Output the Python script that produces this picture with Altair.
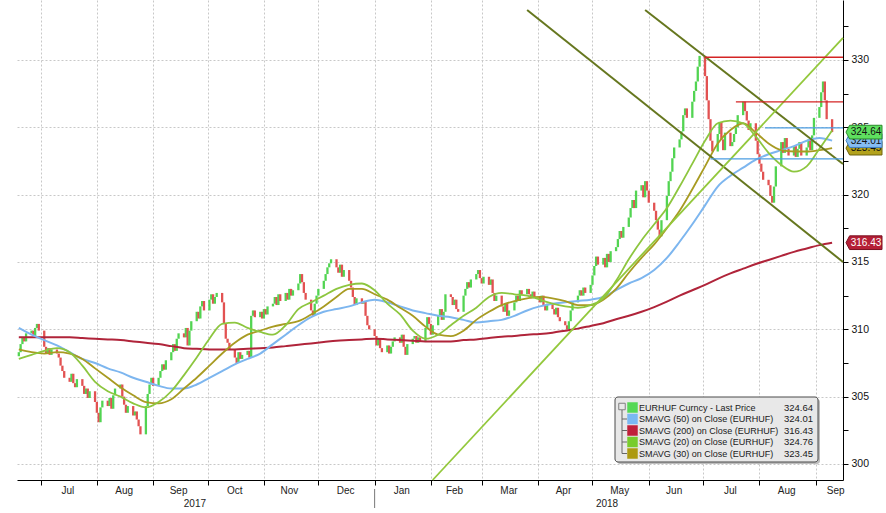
import altair as alt
import numpy as np
import pandas as pd

# ------------------------------------------------------------------ data
first_open = 308.0
closes = [
    308.3, 308.9, 309.4, 309.1, 309.7,  309.9, 309.5, 310.1, 310.4, 309.9,
    308.7, 308.2, 308.6, 308.1, 308.5,  308.2, 307.9, 307.3, 306.9, 306.4,
    306.1, 306.7, 306.0, 305.7, 306.3,  305.8, 305.2, 305.6, 304.9, 305.4,
    304.6, 303.8, 303.1, 304.2, 304.7,  304.3, 304.9, 304.1, 305.1, 305.6,
    305.9, 305.0, 304.4, 303.8, 304.3,  303.6, 303.9, 303.3, 302.8, 302.2,
    304.3, 305.2, 305.9, 306.4, 305.8,  306.4, 306.9, 307.4, 307.0, 307.7,
    308.3, 308.9, 308.4, 309.3, 309.7,  309.4, 310.1, 308.8, 309.9, 310.6,
    311.3, 310.8, 311.7, 312.1, 311.4,  312.2, 312.6, 311.9, 312.4, 312.7,
    312.0, 310.4, 309.3, 309.0, 308.5,  307.9, 307.5, 308.3, 307.8, 308.1,
    308.4, 307.9, 311.0, 311.4, 310.9,  311.3, 310.8, 311.5, 311.1, 311.7,
    311.9, 312.4, 311.8, 312.6, 312.1,  312.7, 312.2, 313.0, 312.5, 312.9,
    313.4, 314.1, 313.5, 312.7, 312.2,  311.4, 311.0, 311.9, 312.5, 313.0,
    313.6, 314.1, 314.6, 314.9, 315.2,  314.6, 314.2, 314.8, 313.9, 314.4,
    313.6, 313.1, 312.4, 311.8, 312.3,  311.9, 312.1, 311.0, 310.3, 310.0,
    309.5, 308.8, 309.3, 308.6, 308.3,  308.8, 308.2, 308.7, 309.1, 309.4,
    309.0, 309.6, 308.7, 308.1, 308.9,  309.3, 309.5, 309.0, 309.4, 309.1,
    310.1, 310.9, 310.4, 309.6, 310.3,  311.0, 311.5, 310.7, 311.3, 312.6,
    312.4, 311.8, 312.2, 311.5, 311.3,  312.5, 313.0, 313.5, 313.1, 313.7,
    314.1, 314.4, 313.8, 313.4, 313.9,  313.3, 313.7, 312.7, 312.1, 312.5,
    311.7, 311.3, 311.9, 311.0, 311.4,  312.0, 312.5, 312.1, 312.9, 312.6,
    313.0, 312.6, 312.3, 312.8, 312.4,  312.0, 312.5, 311.8, 311.4, 311.9,
    311.5, 311.1, 311.6, 310.9, 310.6,  310.3, 310.0, 310.6, 311.4, 312.0,
    312.5, 312.9, 312.5, 313.1, 312.7,  313.3, 314.0, 314.7, 315.4, 314.8,
    315.3, 314.6, 315.6, 315.0, 315.8,  316.1, 316.7, 317.3, 316.8, 317.6,
    318.3, 319.0, 319.6, 319.0, 320.3,  320.7, 319.8, 321.0, 320.3, 319.4,
    318.8, 318.1, 317.4, 316.9, 318.1,  319.9, 321.0, 321.7, 322.7, 323.5,
    324.1, 324.7, 325.9, 326.4, 325.7,  326.9, 327.7, 328.4, 329.5, 330.3,
    328.8, 327.0, 325.6, 324.0, 323.2,  324.5, 325.4, 324.1, 323.3, 324.6,
    323.6, 323.9, 324.5, 325.0, 325.9,  326.9, 326.2, 325.5, 324.8, 325.3,
    324.0, 323.0, 322.3, 321.7, 321.1,  320.7, 319.9, 319.4, 320.6, 322.1,
    323.9, 323.1, 324.2, 323.4, 322.9,  323.6, 322.8, 323.4, 323.9, 322.9,
    323.5, 324.1, 323.3, 324.4, 325.7,  326.5, 327.6, 328.4, 327.0, 325.6,
    324.64,
]

# weekly readings of the moving averages (Mondays from 2017-06-19)
sma20 = [
    307.8, 308.1, 308.4, 308.6, 308.3, 307.3, 306.1, 305.4, 305.0, 304.5,
    304.2, 304.6, 305.4, 306.6, 307.9, 309.3, 310.4, 310.5, 310.1, 309.8,
    309.6, 310.3, 311.5, 312.0, 312.5, 313.0, 313.3, 313.4, 312.9, 311.9,
    311.1, 309.9, 309.3, 309.6, 310.3, 311.0, 311.6, 312.4, 312.7, 312.6,
    312.5, 312.2, 311.9, 311.7, 311.6, 311.8, 312.3, 313.6, 315.2, 316.6,
    317.8, 319.0, 320.6, 322.3, 324.0, 325.3, 325.5, 325.3, 324.3, 323.1,
    322.2, 321.7, 322.1, 323.4, 324.76,
]
sma30 = [
    308.5, 308.3, 308.2, 308.3, 308.2, 307.8, 307.1, 306.4, 305.7, 305.1,
    304.6, 304.5, 304.8, 305.6, 306.4, 307.3, 308.2, 309.0, 309.6, 309.9,
    310.2, 310.4, 310.6, 311.1, 311.7, 312.4, 313.0, 313.0, 312.6, 312.2,
    311.6, 311.0, 310.2, 309.6, 309.5, 309.9, 310.7, 311.3, 311.8, 312.1,
    312.3, 312.4, 312.3, 312.1, 311.8, 311.8, 312.2, 313.0, 314.2, 315.3,
    316.3, 317.5, 318.8, 320.4, 322.1, 323.8, 324.8, 325.3, 324.6, 323.8,
    323.3, 323.2, 323.2, 323.3, 323.45,
]
sma50 = [
    310.1, 309.6, 309.2, 308.8, 308.3, 307.8, 307.5, 307.1, 306.8, 306.4,
    306.1, 305.8, 305.6, 305.6, 305.9, 306.4, 306.9, 307.4, 307.8, 308.2,
    308.9, 309.6, 310.3, 310.9, 311.3, 311.5, 311.7, 312.0, 312.2, 312.0,
    311.7, 311.4, 311.2, 311.0, 310.9, 310.7, 310.5, 310.6, 310.7, 311.0,
    311.4, 311.7, 311.9, 312.0, 312.1, 312.2, 312.4, 312.9, 313.4, 313.8,
    314.4, 315.3, 316.5, 317.8, 319.2, 320.6, 321.4, 322.0, 322.6, 323.0,
    323.3, 323.6, 324.0, 324.2, 324.01,
]
sma200 = [
    309.4, 309.4, 309.4, 309.4, 309.4, 309.35, 309.3, 309.25, 309.2, 309.1,
    309.0, 308.9, 308.75, 308.6, 308.55, 308.5, 308.5, 308.5, 308.55, 308.6,
    308.65, 308.75, 308.85, 308.95, 309.05, 309.15, 309.2, 309.25, 309.3, 309.25,
    309.2, 309.15, 309.1, 309.1, 309.1, 309.2, 309.25, 309.35, 309.45, 309.5,
    309.6, 309.65, 309.75, 309.9, 310.05, 310.25, 310.45, 310.75, 311.0, 311.3,
    311.65, 312.05, 312.5, 312.9, 313.3, 313.75, 314.15, 314.5, 314.85, 315.15,
    315.45, 315.75, 316.0, 316.25, 316.43,
]

# hand-drawn trend lines and levels (date, price)
desc_upper_dates = ["2018-05-30", "2018-09-16"]
desc_upper_prices = [333.71, 322.27]
desc_lower_dates = ["2018-03-26", "2018-09-16"]
desc_lower_prices = [333.71, 315.0]
asc_dates = ["2018-02-02", "2018-09-16"]
asc_prices = [298.81, 331.63]
level_start = ["2018-07-02", "2018-07-19", "2018-08-04", "2018-07-05"]
level_price = [330.2, 326.88, 324.95, 322.65]
level_kind = ["red", "red", "blue", "blue"]

month_names = ["Jul", "Aug", "Sep", "Oct", "Nov", "Dec", "Jan", "Feb", "Mar",
               "Apr", "May", "Jun", "Jul", "Aug", "Sep"]
month_starts = [(2017, m) for m in range(7, 13)] + [(2018, m) for m in range(1, 10)]
month_label_dates = ["2017-07-16", "2017-08-16", "2017-09-15", "2017-10-16",
                     "2017-11-15", "2017-12-16", "2018-01-16", "2018-02-14",
                     "2018-03-16", "2018-04-15", "2018-05-16", "2018-06-15",
                     "2018-07-16", "2018-08-16", "2018-09-12"]
year_names = ["2017", "2018"]
year_label_dates = ["2017-09-24", "2018-05-09"]
y_ticks = [300, 302.5, 305, 307.5, 310, 312.5, 315, 317.5, 320, 322.5,
           325, 327.5, 330, 332.5]

legend_names = ["EURHUF Curncy - Last Price", "SMAVG (50)  on Close (EURHUF)",
                "SMAVG (200)  on Close (EURHUF)", "SMAVG (20)  on Close (EURHUF)",
                "SMAVG (30)  on Close (EURHUF)"]
legend_values = ["324.64", "324.01", "316.43", "324.76", "323.45"]

# ------------------------------------------------------------------ styling
F = "Liberation Sans"
OX = 17  # plot area starts 17px from the left edge of the page
C_UP, C_DN = "#52d452", "#e25252"
C20, C30, C50, C200 = "#8dc63f", "#a89b22", "#7db6ef", "#b0243a"
C_DESC, C_ASC = "#66771f", "#93c83c"

xs = alt.Scale(type="utc", domain=[alt.DateTime(year=2017, month=6, date=18, utc=True),
                                   alt.DateTime(year=2018, month=9, date=16, utc=True)])
ys = alt.Scale(domain=[298.81, 334.45], nice=False, zero=False)

xaxis = alt.Axis(values=[alt.DateTime(year=y, month=m, date=1, utc=True) for y, m in month_starts],
                 labels=False, title=None, tickColor="#000", tickSize=5, domainColor="#000",
                 grid=True, gridColor="#c8c8c8", gridDash=[2, 2])
yaxis = alt.Axis(orient="right", values=y_ticks, title=None,
                 labelExpr="datum.value % 5 === 0 ? format(datum.value, 'd') : ''",
                 tickColor="#000", tickSize=5, domainColor="#000", labelFont=F,
                 labelFontSize=10.5, labelColor="#111", labelPadding=3,
                 grid=True, gridColor="#c8c8c8", gridDash=[2, 2],
                 gridOpacity={"condition": {"test": "datum.value % 5 !== 0", "value": 0}, "value": 1})


def X(field):
    return alt.X(field, scale=xs, axis=xaxis)


def Y(field):
    return alt.Y(field, scale=ys, axis=yaxis)


def px(v):
    return alt.value(v - OX)


dates = pd.bdate_range("2017-06-19", periods=len(closes)).strftime("%Y-%m-%d")
opens = [first_open] + closes[:-1]
cdf = pd.DataFrame({"date": dates, "open": opens, "close": closes})
cdf["dir"] = np.where(cdf["close"] >= cdf["open"], "up", "down")

candles = alt.Chart(cdf).mark_rule(strokeWidth=2.3).encode(
    x=X("date:T"), y=Y("open:Q"), y2="close:Q",
    color=alt.Color("dir:N", scale=alt.Scale(domain=["up", "down"], range=[C_UP, C_DN]), legend=None),
)

sdates = pd.date_range("2017-06-19", periods=len(sma20), freq="7D").strftime("%Y-%m-%d")


def sma_layer(vals, color, width):
    d = pd.DataFrame({"date": sdates, "v": vals})
    return alt.Chart(d).mark_line(color=color, strokeWidth=width, interpolate="monotone").encode(
        x=X("date:T"), y=Y("v:Q"))


def seg_layer(dts, prices, color, width):
    d = pd.DataFrame({"date": dts, "v": prices})
    return alt.Chart(d).mark_line(color=color, strokeWidth=width).encode(x=X("date:T"), y=Y("v:Q"))


lv = pd.DataFrame({"start": level_start, "end": ["2018-09-16"] * 4, "v": level_price,
                   "c": ["#d42424" if k == "red" else "#4b9de2" for k in level_kind]})
levels = alt.Chart(lv).mark_rule(strokeWidth=1.3).encode(
    x=X("start:T"), x2="end:T", y=Y("v:Q"), color=alt.Color("c:N", scale=None))

# month and year labels
ml = pd.DataFrame({"date": month_label_dates, "t": month_names})
mlab = alt.Chart(ml).mark_text(font=F, fontSize=10, color="#222", baseline="middle").encode(
    x=X("date:T"), y=alt.value(491), text="t:N")
yl = pd.DataFrame({"date": year_label_dates, "t": year_names})
ylab = alt.Chart(yl).mark_text(font=F, fontSize=10, color="#222", baseline="middle").encode(
    x=X("date:T"), y=alt.value(504), text="t:N")
ydiv = alt.Chart(pd.DataFrame({"date": ["2018-01-01"]})).mark_rule(color="#777", strokeWidth=1).encode(
    x=X("date:T"), y=alt.value(489), y2=alt.value(508))

# value tags on the right axis
TAG = "M-1,0L-0.8,-0.38L1,-0.38L1,0.38L-0.8,0.38Z"
tag_layers = []
for val, fill, stroke, tc in [(323.45, "#b3a21c", "#6e6410", "#111"),
                              (324.01, "#86bdf2", "#3f7fbf", "#111"),
                              (324.64, "#5fe05f", "#2a8a2a", "#111"),
                              (316.43, "#b51f36", "#7a1020", "#fff")]:
    d = pd.DataFrame({"v": [val], "t": [f"{val:.2f}"]})
    tag_layers.append(alt.Chart(d).mark_point(shape=TAG, size=1296, filled=True, fill=fill,
                                               stroke=stroke, strokeWidth=1, opacity=1).encode(
        x=px(864), y=Y("v:Q")))
    tag_layers.append(alt.Chart(d).mark_text(font=F, fontSize=10, color=tc, align="center",
                                              baseline="middle").encode(
        x=px(866), y=Y("v:Q"), text="t:N"))

# legend box
one = pd.DataFrame({"a": [0]})
lbox_shadow = alt.Chart(one).mark_rect(fill="#bdbdbd", cornerRadius=3).encode(
    x=px(617), x2=px(820), y=alt.value(399), y2=alt.value(464))
lbox = alt.Chart(one).mark_rect(fill="#e8e8e8", stroke="#4a4a4a", strokeWidth=1, cornerRadius=3).encode(
    x=px(615), x2=px(818), y=alt.value(397), y2=alt.value(462))
rows_y = [407.5, 419, 430.5, 442, 453.5]
ld = pd.DataFrame({"py": rows_y, "name": legend_names, "val": legend_values,
                   "c": ["#55d855", "#7ab8f2", "#c0203a", "#78cc2c", "#ad9a10"]})
ltree = alt.Chart(one).mark_rule(color="#666", strokeWidth=1).encode(
    x=px(622), y=alt.value(410), y2=alt.value(453.5))
lticks = alt.Chart(ld.iloc[1:]).mark_rule(color="#666", strokeWidth=1).encode(
    x=px(622), x2=px(627), y=alt.Y("py:Q", scale=None, axis=None))
lminus = alt.Chart(one).mark_square(size=42, filled=False, color="#555", strokeWidth=1).encode(
    x=px(622), y=alt.value(406.5))
lsq = alt.Chart(ld).mark_square(size=110, opacity=1).encode(
    x=px(632.5), y=alt.Y("py:Q", scale=None, axis=None), color=alt.Color("c:N", scale=None))
lname = alt.Chart(ld).mark_text(font=F, fontSize=9, color="#1a1a1a", align="left",
                                baseline="middle").encode(
    x=px(639), y=alt.Y("py:Q", scale=None, axis=None), text="name:N")
lval = alt.Chart(ld).mark_text(font=F, fontSize=9.5, color="#1a1a1a", align="right",
                               baseline="middle").encode(
    x=px(813), y=alt.Y("py:Q", scale=None, axis=None), text="val:N")

chart = alt.layer(
    candles,
    sma_layer(sma200, C200, 2),
    sma_layer(sma50, C50, 2),
    sma_layer(sma30, C30, 1.8),
    sma_layer(sma20, C20, 1.8),
    seg_layer(desc_upper_dates, desc_upper_prices, C_DESC, 2),
    seg_layer(desc_lower_dates, desc_lower_prices, C_DESC, 2),
    seg_layer(asc_dates, asc_prices, C_ASC, 1.8),
    levels,
    mlab, ylab, ydiv,
    *tag_layers,
    lbox_shadow, lbox, ltree, lticks, lminus, lsq, lname, lval,
).properties(
    width=826, height=480,
    padding={"left": 17, "top": 0, "right": 43, "bottom": 33},
    autosize=alt.AutoSizeParams(type="none"),
    background="white",
).configure_view(stroke=None)

chart.save("out.html", embed_options={"renderer": "svg", "actions": False})
